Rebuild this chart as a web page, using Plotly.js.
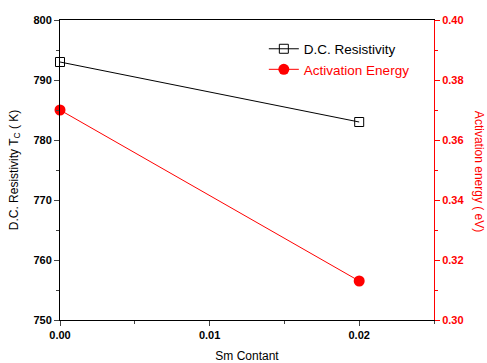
<!DOCTYPE html>
<html><head><meta charset="utf-8">
<script src="https://cdn.plot.ly/plotly-3.0.1.min.js"></script>
<style>html,body{margin:0;padding:0;background:#fff}</style>
</head><body>
<div id="chart" style="width:487px;height:363px"></div>
<script>
const smContent = [0.00, 0.02];
const resistivityTc = [793, 783];
const activationEnergy = [0.370, 0.313];
const xTickVals = [0, 0.01, 0.02];
const xTickText = ['0.00', '0.01', '0.02'];

const traces = [
  {x: smContent, y: resistivityTc, name: 'D.C. Resistivity', type: 'scatter', mode: 'lines+markers',
   line: {color: '#000', width: 1}, marker: {symbol: 'square-open', size: 9, color: '#000', line: {width: 1}},
   cliponaxis: false},
  {x: smContent, y: activationEnergy, name: '<span style="color:#ff0000">Activation Energy</span>', type: 'scatter', mode: 'lines+markers',
   yaxis: 'y2', line: {color: '#ff0000', width: 1}, marker: {symbol: 'circle', size: 11, color: '#ff0000'},
   cliponaxis: false}
];
const tickFont = {family: 'Liberation Sans, Arial, sans-serif', size: 11, color: '#000', weight: 'bold'};
const layout = {
  width: 487, height: 363,
  margin: {l: 60, r: 53, t: 20, b: 43},
  paper_bgcolor: '#fff', plot_bgcolor: '#fff',
  font: {family: 'Liberation Sans, Arial, sans-serif', size: 12, color: '#000'},
  showlegend: true,
  legend: {x: 0.545, y: 0.955, xanchor: 'left', yanchor: 'top', bgcolor: 'rgba(0,0,0,0)',
           font: {size: 13.5}, tracegroupgap: 0, itemwidth: 30},
  xaxis: {range: [0, 0.025], tickvals: xTickVals, ticktext: xTickText, ticks: 'outside', ticklen: 5,
          showgrid: false, zeroline: false, showline: true, linecolor: '#000', linewidth: 1, mirror: true,
          tickfont: tickFont, minor: {dtick: 0.005, tick0: 0, ticks: 'outside', ticklen: 3, showgrid: false},
          title: {text: 'Sm Contant', font: {size: 12}, standoff: 20}},
  yaxis: {range: [750, 800], dtick: 10, ticks: 'outside', ticklen: 5, showgrid: false, zeroline: false,
          showline: true, linecolor: '#000', linewidth: 1, tickfont: tickFont,
          minor: {dtick: 5, ticks: 'outside', ticklen: 3, showgrid: false},
          title: {text: 'D.C. Resistivity T<sub>C</sub> ( K)', font: {size: 12}, standoff: 12}},
  yaxis2: {range: [0.30, 0.40], dtick: 0.02, tickformat: '.2f', overlaying: 'y', side: 'right',
           ticks: 'outside', ticklen: 5, tickcolor: '#ff0000', showgrid: false, zeroline: false,
           showline: true, linecolor: '#ff0000', linewidth: 1,
           tickfont: Object.assign({}, tickFont, {color: '#ff0000'}),
           minor: {dtick: 0.01, ticks: 'outside', ticklen: 3, showgrid: false, tickcolor: '#ff0000'}},
  annotations: [{text: 'Activation energy ( eV)', textangle: 90, xref: 'paper', yref: 'paper',
                 x: 1.122, y: 0.495, xanchor: 'center', yanchor: 'middle', showarrow: false,
                 font: {size: 12, color: '#ff0000'}}]
};
Plotly.newPlot('chart', traces, layout, {displayModeBar: false, staticPlot: true});
</script>
</body></html>
